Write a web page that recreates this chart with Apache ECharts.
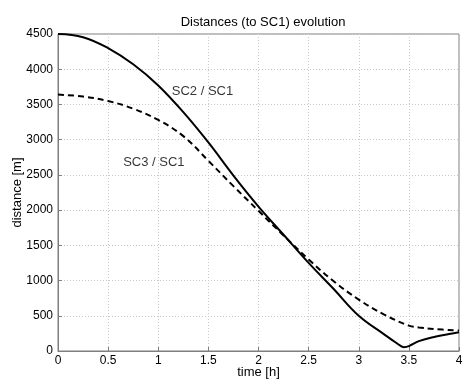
<!DOCTYPE html>
<html>
<head>
<meta charset="utf-8">
<script src="https://cdn.jsdelivr.net/npm/echarts@6/dist/echarts.min.js"></script>
<style>html,body{margin:0;padding:0;background:#fff}#c{width:463px;height:380px}</style>
</head>
<body>
<div id="c"></div>
<script>
var sc2Time = [0, 0.25, 0.5, 0.75, 1.0, 1.25, 1.5, 1.75, 2.0, 2.25, 2.5, 2.75, 3.0, 3.25, 3.38, 3.45, 3.5, 3.6, 3.75, 3.9, 4.0];
var sc2Dist = [4500, 4455, 4300, 4070, 3770, 3390, 2960, 2490, 2050, 1650, 1250, 880, 500, 240, 110, 55, 70, 140, 200, 240, 265];
var sc3Time = [0, 0.25, 0.5, 0.75, 1.0, 1.25, 1.5, 1.75, 2.0, 2.25, 2.5, 2.75, 3.0, 3.25, 3.5, 3.6, 3.75, 4.0];
var sc3Dist = [3640, 3612, 3548, 3440, 3280, 3050, 2700, 2340, 1990, 1640, 1300, 990, 730, 520, 360, 335, 312, 290];
var seriesNames = ['SC2 / SC1', 'SC3 / SC1'];
var labelAnchors = [[1.13, 3690], [0.645, 2680]];
var xTicks = [0, 0.5, 1, 1.5, 2, 2.5, 3, 3.5, 4];
var yTicks = [0, 500, 1000, 1500, 2000, 2500, 3000, 3500, 4000, 4500];

function zip(a, b) { return a.map(function (v, i) { return [v, b[i]]; }); }
var FONT = 'Liberation Sans, Arial, sans-serif';
var chart = echarts.init(document.getElementById('c'), null, {renderer: 'canvas'});
var axisCommon = {
  axisLine: {show: true, onZero: false, lineStyle: {color: '#7f7f7f', width: 1}},
  axisTick: {show: true, inside: true, length: 4, lineStyle: {color: '#7f7f7f'}},
  splitLine: {show: true, lineStyle: {color: '#c8c8c8', type: [1, 2], width: 1}},
  axisLabel: {color: '#000', fontFamily: FONT, fontSize: 12},
  nameTextStyle: {color: '#000', fontFamily: FONT, fontSize: 13},
  nameMoveOverlap: false
};
chart.setOption({
  animation: false,
  backgroundColor: '#fff',
  title: {text: 'Distances (to SC1) evolution', left: 258, top: 11, textAlign: 'center',
    textStyle: {fontFamily: FONT, fontSize: 13, fontWeight: 'normal', color: '#000'}},
  grid: {left: 58, right: 4, top: 34, bottom: 29, show: true, borderColor: '#7f7f7f', borderWidth: 1,
    containLabel: false, outerBoundsMode: 'none'},
  xAxis: Object.assign({}, axisCommon, {
    type: 'value', min: 0, max: 4, interval: 0.5,
    name: 'time [h]', nameLocation: 'middle', nameGap: 15,
    axisLabel: Object.assign({}, axisCommon.axisLabel, {margin: 4, formatter: function (v) { return xTicks.indexOf(v) >= 0 ? String(v) : ''; }})
  }),
  yAxis: Object.assign({}, axisCommon, {
    type: 'value', min: 0, max: 4500, interval: 500,
    name: 'distance [m]', nameLocation: 'middle', nameGap: 34,
    axisLabel: Object.assign({}, axisCommon.axisLabel, {margin: 5, formatter: function (v) { return yTicks.indexOf(v) >= 0 ? String(v) : ''; }})
  }),
  series: [
    {name: seriesNames[0], type: 'line', data: zip(sc2Time, sc2Dist), showSymbol: false, smooth: 0.4,
      lineStyle: {color: '#000', width: 2}},
    {name: seriesNames[1], type: 'line', data: zip(sc3Time, sc3Dist), showSymbol: false, smooth: 0.4,
      lineStyle: {color: '#000', width: 2, type: [6, 4]}},
    {name: 'labels', type: 'scatter', silent: true, symbolSize: 1,
      itemStyle: {color: 'rgba(0,0,0,0)'},
      data: labelAnchors.map(function (p, i) { return {value: p, name: seriesNames[i]}; }),
      label: {show: true, position: 'right', distance: 0, formatter: function (p) { return p.name; },
        color: '#000', fontFamily: FONT, fontSize: 13}}
  ]
});
</script>
</body>
</html>
